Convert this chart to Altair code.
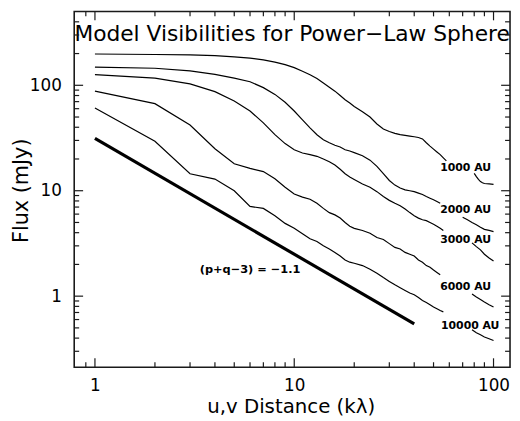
import altair as alt
import pandas as pd

# ---------------- data ----------------
names = ["1000 AU", "2000 AU", "3000 AU", "6000 AU", "10000 AU"]

# common u,v grid for the part of each curve left of its label
X1 = [1, 2, 3, 4, 5, 6, 7, 8, 9, 10, 11, 12, 13, 14, 15, 16, 17, 18, 19, 20,
      22, 24, 26, 28, 30, 32, 34, 36, 38, 40, 42, 44, 46, 48, 50, 52, 54, 56, 58]

A_y1 = [198, 196, 194, 191, 186, 181, 174, 166, 157, 147, 136, 126, 116, 105, 96, 88, 80, 73, 68, 63,
        56, 50, 43, 38.5, 36.5, 35, 34, 33.5, 33, 32.5, 32, 31, 28.5, 26.5, 24.8, 23.3, 22, 20.5, 19.2]
A_x2 = [80, 82, 84, 86, 88, 90, 95, 100]
A_y2 = [14.6, 13.6, 12.8, 12.2, 11.9, 11.7, 11.6, 11.5]

B_y1 = [149, 145, 137, 127, 117, 108, 95, 82, 69, 57, 47, 39.5, 34, 30.5, 28.5, 27, 26, 24.5, 23.8, 23,
        21.5, 19.5, 17, 14.5, 12.5, 11.3, 10.6, 10.2, 10, 9.8, 9.5, 9.2, 8.8, 8.5, 8.2, 7.9, 7.6]
B_x2 = [70, 74, 78, 82, 86, 90, 95, 100]
B_y2 = [5.6, 5.3, 5.0, 4.75, 4.5, 4.3, 4.2, 4.1]

C_y1 = [126, 117, 103, 87, 71, 57, 44, 34, 28, 24.5, 22.8, 22, 21.2, 20, 18.8, 17.5, 16, 14.5, 13.5, 12.8,
        11.6, 10.8, 9.8, 8.8, 8.1, 7.6, 7.2, 6.7, 6.2, 5.8, 5.5, 5.3, 5.2, 5.0, 4.8, 4.6, 4.4, 4.2]
C_x2 = [78, 82, 86, 90, 95, 100]
C_y2 = [3.2, 2.95, 2.75, 2.5, 2.3, 2.15]

D_y1 = [88, 67, 42, 25, 18, 16.3, 15.2, 13, 10.8, 9.3, 8.7, 8.3, 7.6, 6.8, 6.2, 5.9, 5.5, 5.0, 4.6, 4.4,
        4.2, 3.95, 3.6, 3.45, 3.15, 2.9, 2.8, 2.6, 2.5, 2.4, 2.2, 2.1, 1.95, 1.88, 1.77, 1.68, 1.6]
D_x2 = [78, 82, 86, 90, 95, 100]
D_y2 = [1.05, 0.98, 0.93, 0.88, 0.83, 0.79]

E_y1 = [61, 29.5, 14.5, 12.9, 10, 7.1, 6.8, 5.8, 4.9, 4.4, 3.9, 3.5, 3.3, 3.0, 2.8, 2.6, 2.4, 2.2, 2.1, 2.05,
        1.95, 1.8, 1.65, 1.5, 1.38, 1.28, 1.2, 1.13, 1.07, 1.03, 0.97, 0.91, 0.87, 0.83, 0.79, 0.76, 0.73, 0.71]
E_x2 = [78, 82, 86, 90, 95, 100]
E_y2 = [0.48, 0.45, 0.43, 0.41, 0.395, 0.38]

# power law (p+q-3) = -1.1
P_x = [1, 40]
P_y = [31.3, 0.546]

# axis ticks
x_major = [1, 10, 100]
x_minor = [0.9, 2, 3, 4, 5, 6, 7, 8, 9, 20, 30, 40, 50, 60, 70, 80, 90]
y_major = [1, 10, 100]
y_minor = [0.3, 0.4, 0.5, 0.6, 0.7, 0.8, 0.9, 2, 3, 4, 5, 6, 7, 8, 9,
           20, 30, 40, 50, 60, 70, 80, 90, 200, 300, 400]

# annotation anchors (data coordinates)
label_x = [54, 54, 54, 54, 54.5]
label_y = [16.4, 6.5, 3.41, 1.21, 0.525]
note_text = "(p+q\u22123) = \u22121.1"
note_x = [6.0]
note_y = [1.75]
title_text = "Model Visibilities for Power\u2212Law Sphere"

# ---------------- build tables ----------------
rows = []
segs = [(A_y1, A_x2, A_y2), (B_y1, B_x2, B_y2), (C_y1, C_x2, C_y2), (D_y1, D_x2, D_y2), (E_y1, E_x2, E_y2)]
for name, (y1, x2, y2) in zip(names, segs):
    for xv, yv in zip(X1[:len(y1)], y1):
        rows.append({"x": xv, "y": yv, "key": name + " a"})
    for xv, yv in zip(x2, y2):
        rows.append({"x": xv, "y": yv, "key": name + " b"})
curves_df = pd.DataFrame(rows)
power_df = pd.DataFrame({"x": P_x, "y": P_y})
labels_df = pd.DataFrame({"x": label_x, "y": label_y, "t": names})
note_df = pd.DataFrame({"x": note_x, "y": note_y, "t": [note_text]})

W, H = 441, 360
FONT = "DejaVu Sans"
INK = "#1a1a1a"

xscale = alt.Scale(type="log", domain=[0.787, 121], nice=False)
yscale = alt.Scale(type="log", domain=[0.212, 502], nice=False)
xaxis = alt.Axis(values=x_major, format="d", ticks=False, domain=False, grid=False,
                 labelFont=FONT, labelFontSize=17, labelColor="black", labelPadding=11,
                 title="u,v Distance (k\u03bb)", titleFont=FONT, titleFontSize=20,
                 titleFontWeight="normal", titleColor="black",
                 titleX=219, titleY=40, titleBaseline="middle")
yaxis = alt.Axis(values=y_major, format="d", ticks=False, domain=False, grid=False,
                 labelFont=FONT, labelFontSize=17, labelColor="black", labelPadding=13,
                 title="Flux (mJy)", titleFont=FONT, titleFontSize=21,
                 titleFontWeight="normal", titleColor="black",
                 titleX=-53, titleY=181, titleBaseline="middle", titleAlign="center", titleAngle=-90)
X = alt.X("x:Q", scale=xscale, axis=xaxis)
Y = alt.Y("y:Q", scale=yscale, axis=yaxis)

lines = alt.Chart(curves_df).mark_line(color="black", strokeWidth=1.2).encode(
    x=X, y=Y, detail="key:N", order="x:Q")
power = alt.Chart(power_df).mark_line(color="black", strokeWidth=3.2).encode(x=X, y=Y)
labels = alt.Chart(labels_df).mark_text(align="left", baseline="middle", font=FONT,
                                        fontWeight="bold", fontSize=11, color="black").encode(
    x=X, y=Y, text="t:N")
note = alt.Chart(note_df).mark_text(align="center", baseline="middle", font=FONT,
                                    fontWeight="bold", fontSize=11.5, color="black").encode(
    x=X, y=Y, text="t:N")
title = alt.Chart(pd.DataFrame({"t": [title_text]})).mark_text(
    align="center", baseline="middle", font=FONT, fontSize=22, color="black").encode(
    text="t:N", x=alt.value(W / 2), y=alt.value(23))


def xticks(vals, length):
    d = pd.DataFrame({"x": vals})
    bot = alt.Chart(d).mark_rule(color=INK, strokeWidth=1.2).encode(
        x=X, y=alt.value(H), y2=alt.value(H - length))
    top = alt.Chart(d).mark_rule(color=INK, strokeWidth=1.2).encode(
        x=X, y=alt.value(0), y2=alt.value(length))
    return [bot, top]


def yticks(vals, length):
    d = pd.DataFrame({"y": vals})
    left = alt.Chart(d).mark_rule(color=INK, strokeWidth=1.2).encode(
        y=Y, x=alt.value(0), x2=alt.value(length))
    right = alt.Chart(d).mark_rule(color=INK, strokeWidth=1.2).encode(
        y=Y, x=alt.value(W), x2=alt.value(W - length))
    return [left, right]


tick_layers = xticks(x_major, 9) + xticks(x_minor, 5) + yticks(y_major, 9) + yticks(y_minor, 5)

chart = alt.layer(lines, power, labels, note, title, *tick_layers).properties(
    width=W, height=H,
    autosize=alt.AutoSizeParams(type="none"),
    padding={"left": 67, "top": 1, "right": 2, "bottom": 52},
).configure_view(stroke=INK, strokeWidth=1.6)

chart.save("out.html", embed_options={"renderer": "svg", "actions": False})
